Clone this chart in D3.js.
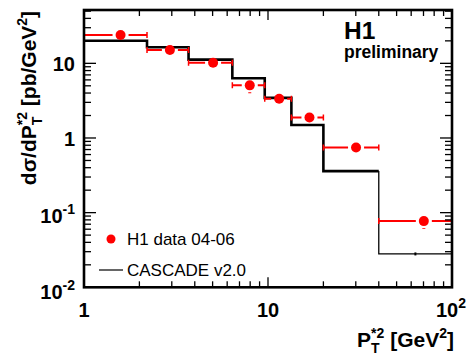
<!DOCTYPE html>
<html>
<head>
<meta charset="utf-8">
<script src="https://cdn.jsdelivr.net/npm/d3@7"></script>
<style>
  html, body { margin: 0; padding: 0; background: #fff; }
  svg { display: block; }
  text { font-family: "Liberation Sans", Arial, Helvetica, sans-serif; }
</style>
</head>
<body>
<svg id="chart" width="476" height="362"></svg>
<script>
// ---------------- data ----------------
const binEdges   = [1, 2.2, 3.7, 6.4, 9.6, 13.4, 20, 40, 100];
const mcValues   = [20.1, 16.4, 11.2, 6.3, 3.45, 1.49, 0.36, 0.028];
const dataX      = [1.58, 2.93, 5.03, 7.96, 11.5, 16.8, 30.1, 70.3];
const dataY      = [24, 15.1, 10.2, 5.07, 3.35, 1.88, 0.745, 0.077];
const dataYLow   = [23, 14.5, 9.8, 3.97, 3.2, 1.8, 0.71, 0.061];
const dataYHigh  = [25, 15.7, 10.6, 5.3, 3.5, 1.96, 0.78, 0.080];
const xTickVals  = [1, 10, 100];
const xTickLabels = [["1", null], ["10", null], ["10", "2"]];
const yTickVals  = [0.01, 0.1, 1, 10];
const yTickLabels = [["10", "-2"], ["10", "-1"], ["1", null], ["10", null]];
const legendLabels = ["H1 data 04-06", "CASCADE v2.0"];

// ---------------- layout ----------------
const svg = d3.select("#chart");
const L = 84, R = 452, T = 10, B = 287.3;
const x = d3.scaleLog().domain([1, 100]).range([L, R]);
const y = d3.scaleLog().domain([0.01, 51.8]).range([B, T]);

svg.append("defs").append("clipPath").attr("id", "plotclip")
  .append("rect").attr("x", L).attr("y", T).attr("width", R - L).attr("height", B - T);

// ---------------- MC histogram ----------------
const thickPts = [], thinPts = [];
for (let i = 0; i < mcValues.length; i++) {
  const p = [[x(binEdges[i]), y(mcValues[i])], [x(binEdges[i + 1]), y(mcValues[i])]];
  if (i < 7) thickPts.push(...p); else thinPts.push(...p);
}
thinPts.unshift(thickPts[thickPts.length - 1]);
const line = d3.line();
const gHist = svg.append("g").attr("clip-path", "url(#plotclip)");
gHist.append("path").attr("d", line(thickPts)).attr("fill", "none")
  .attr("stroke", "#000").attr("stroke-width", 2.6).attr("stroke-linejoin", "miter");
gHist.append("path").attr("d", line(thinPts)).attr("fill", "none")
  .attr("stroke", "#000").attr("stroke-width", 1.3);
// small MC stat error mark in last bin
gHist.append("rect")
  .attr("x", x(Math.sqrt(binEdges[7] * binEdges[8])) - 1).attr("y", y(mcValues[7]) - 1.5)
  .attr("width", 2).attr("height", 3).attr("fill", "#000");

// ---------------- data points ----------------
const red = "#ff0000";
const gData = svg.append("g").attr("clip-path", "url(#plotclip)");
const r = 5, gap = 8, serif = 3;
dataX.forEach((xv, i) => {
  const cx = x(xv), cy = y(dataY[i]);
  const xl = x(binEdges[i]), xr = x(binEdges[i + 1]);
  if (cx - gap > xl) gData.append("line").attr("x1", xl).attr("x2", cx - gap).attr("y1", cy).attr("y2", cy)
    .attr("stroke", red).attr("stroke-width", 2);
  if (xr > cx + gap) gData.append("line").attr("x1", cx + gap).attr("x2", xr).attr("y1", cy).attr("y2", cy)
    .attr("stroke", red).attr("stroke-width", 2);
  [xl, xr].forEach(ex => gData.append("line").attr("x1", ex).attr("x2", ex)
    .attr("y1", cy - serif).attr("y2", cy + serif).attr("stroke", red).attr("stroke-width", 1.5));
  const ylo = y(dataYLow[i]), yhi = y(dataYHigh[i]);
  if (ylo > cy + r + 2) gData.append("line").attr("x1", cx).attr("x2", cx)
    .attr("y1", cy + r + 2).attr("y2", ylo).attr("stroke", red).attr("stroke-width", 3);
  if (yhi < cy - r - 2) gData.append("line").attr("x1", cx).attr("x2", cx)
    .attr("y1", cy - r - 2).attr("y2", yhi).attr("stroke", red).attr("stroke-width", 3);
  gData.append("circle").attr("cx", cx).attr("cy", cy).attr("r", r).attr("fill", red);
});

// ---------------- frame & ticks ----------------
const gAx = svg.append("g").attr("stroke", "#000");
function minorLog(lo, hi) {
  const out = [];
  for (let d = lo; d < hi; d *= 10) for (let k = 1; k < 10; k++) out.push(d * k);
  out.push(hi);
  return out;
}
const xt = minorLog(1, 100).filter(v => v > 1 && v < 100);
xt.forEach(v => {
  const major = xTickVals.some(t => Math.abs(t - v) / t < 1e-6);
  const len = major ? 10 : 6;
  const px = x(v);
  gAx.append("line").attr("x1", px).attr("x2", px).attr("y1", B).attr("y2", B - len).attr("stroke-width", 1.3);
  gAx.append("line").attr("x1", px).attr("x2", px).attr("y1", T).attr("y2", T + len).attr("stroke-width", 1.3);
});
const yt = minorLog(0.01, 10).filter(v => v > 0.0100001);
for (let k = 2; k <= 5; k++) yt.push(10 * k);
yt.forEach(v => {
  if (v > 51.8) return;
  const major = yTickVals.some(t => Math.abs(t - v) / t < 1e-6);
  const len = major ? 12 : 7;
  const py = y(v);
  gAx.append("line").attr("x1", L).attr("x2", L + len).attr("y1", py).attr("y2", py).attr("stroke-width", 1.3);
  gAx.append("line").attr("x1", R).attr("x2", R - len).attr("y1", py).attr("y2", py).attr("stroke-width", 1.3);
});
gAx.append("rect").attr("x", L).attr("y", T).attr("width", R - L).attr("height", B - T)
  .attr("fill", "none").attr("stroke-width", 2.6);

// ---------------- tick labels ----------------
function powLabel(parent, px, py, base, exp, anchor) {
  const t = parent.append("text").attr("x", px).attr("y", py)
    .attr("font-weight", "bold").attr("font-size", 20).attr("text-anchor", anchor).attr("fill", "#000");
  t.append("tspan").text(base);
  if (exp) t.append("tspan").attr("font-size", 14).attr("dy", -9).text(exp);
  return t;
}
const gLab = svg.append("g");
const yOff = [12, 10, 8, 8];
yTickVals.forEach((v, i) => {
  powLabel(gLab, 75, y(v) + yOff[i], yTickLabels[i][0], yTickLabels[i][1], "end");
});
xTickVals.forEach((v, i) => {
  const lab = xTickLabels[i];
  if (lab[1]) powLabel(gLab, x(v) + 14, 317, lab[0], lab[1], "end");
  else powLabel(gLab, x(v), 317, lab[0], null, "middle");
});

// ---------------- axis titles (piecewise layout) ----------------
function layoutPieces(g, pieces) {
  let cur = 0, prevX = 0;
  pieces.forEach(p => {
    const el = g.append("text").attr("font-weight", "bold").attr("font-size", p.size)
      .attr("fill", "#000").style("white-space", "pre").attr("xml:space", "preserve").text(p.t);
    const w = el.node().getComputedTextLength();
    let px;
    if (p.stack) { px = prevX; cur = Math.max(cur, prevX + w); }
    else { px = cur; cur = px + w; }
    el.attr("x", px).attr("y", -(p.dy || 0));
    prevX = px;
  });
  return cur;
}
const xTitle = svg.append("g");
const xw = layoutPieces(xTitle, [
  {t: "P", size: 21},
  {t: "T", size: 14, dy: -6},
  {t: "*2", size: 14, dy: 9, stack: true},
  {t: "\u00A0[GeV", size: 21},
  {t: "2", size: 14, dy: 9},
  {t: "]", size: 21}
]);
xTitle.attr("transform", `translate(${454 - xw},346.5)`);

const yTitle = svg.append("g");
const yw = layoutPieces(yTitle, [
  {t: "dσ/dP", size: 21},
  {t: "T", size: 14, dy: -6},
  {t: "*2", size: 14, dy: 9, stack: true},
  {t: "\u00A0[pb/GeV", size: 21},
  {t: "2", size: 14, dy: 9},
  {t: "]", size: 21}
]);
yTitle.attr("transform", `translate(35.5,${98 + yw / 2}) rotate(-90)`);

// ---------------- H1 preliminary ----------------
svg.append("text").attr("x", 344).attr("y", 39.3).attr("font-weight", "bold")
  .attr("font-size", 24.5).text("H1");
svg.append("text").attr("x", 344).attr("y", 58.3).attr("font-weight", "bold")
  .attr("font-size", 17.5).text("preliminary");

// ---------------- legend ----------------
const gLeg = svg.append("g");
gLeg.append("circle").attr("cx", 111).attr("cy", 239).attr("r", 4.5).attr("fill", red);
gLeg.append("text").attr("x", 127).attr("y", 245).attr("font-size", 17).text(legendLabels[0]);
gLeg.append("line").attr("x1", 99).attr("x2", 123).attr("y1", 270).attr("y2", 270)
  .attr("stroke", "#000").attr("stroke-width", 1.2);
gLeg.append("text").attr("x", 127).attr("y", 275.5).attr("font-size", 17).text(legendLabels[1]);
</script>
</body>
</html>
